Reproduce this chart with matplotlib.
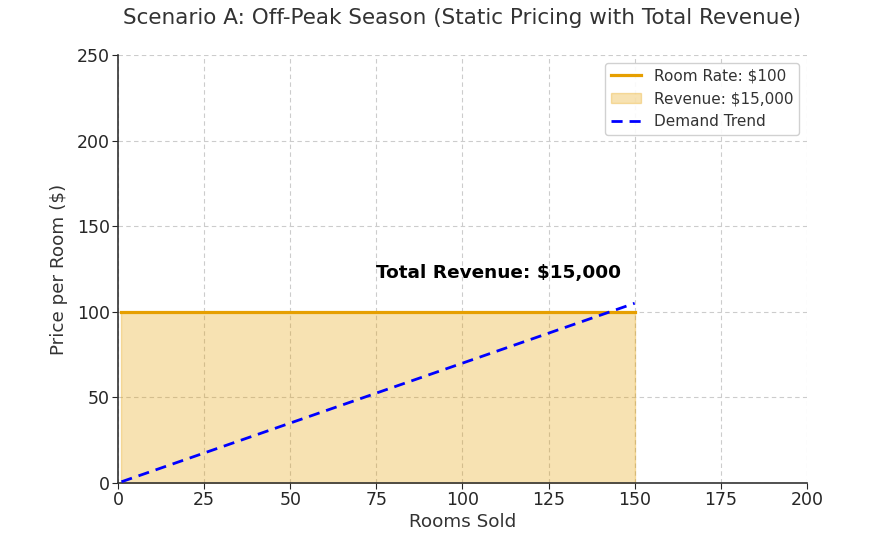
import matplotlib
matplotlib.use("Agg")
import matplotlib.pyplot as plt

rooms = [1, 150]
rate = [100, 100]
demand_rooms = [1, 150]
demand_price = [0.7, 105]
rate_label = "Room Rate: $100"
revenue_label = "Revenue: $15,000"
demand_label = "Demand Trend"
annotation = "Total Revenue: $15,000"
xticks = [0, 25, 50, 75, 100, 125, 150, 175, 200]
yticks = [0, 50, 100, 150, 200, 250]

txt = "#262626"
plt.rcParams['font.family'] = ['DejaVu Sans']
fig = plt.figure(figsize=(8.78, 5.42), dpi=100)
ax = fig.add_axes([0.1344, 0.1089, 0.7846, 0.7896])

ax.plot(rooms, rate, color="#E69F00", lw=2.3, label=rate_label, zorder=3)
ax.fill_between(rooms, 0, rate, color="#E69F00", alpha=0.3, label=revenue_label, zorder=2)
ax.plot(demand_rooms, demand_price, color="#0000FF", lw=2, ls=(0, (4, 2.5)), label=demand_label, zorder=4)
ax.text(75, 120, annotation, fontsize=13.3, fontweight="bold", color="black")

ax.set_xlim(0, 200)
ax.set_ylim(0, 250)
ax.set_xticks(xticks)
ax.set_yticks(yticks)
ax.grid(True, ls=(0, (4, 3)), color="#cccccc", lw=0.8)
for s in ["top", "right"]:
    ax.spines[s].set_visible(False)
for s in ["left", "bottom"]:
    ax.spines[s].set_color("#333333")
    ax.spines[s].set_linewidth(1.2)
ax.tick_params(labelsize=12.5, colors=txt, length=4, pad=2)
ax.set_xlabel("Rooms Sold", fontsize=13.2, color="#333333", labelpad=3)
ax.set_ylabel("Price per Room ($)", fontsize=13.2, color="#333333", labelpad=6)
ax.set_title("Scenario A: Off-Peak Season (Static Pricing with Total Revenue)", fontsize=15.5, color="#333333", pad=22)
leg = ax.legend(loc="upper right", fontsize=11, labelcolor="#333333", framealpha=0.9)
fig.savefig("out.png", dpi=100)
